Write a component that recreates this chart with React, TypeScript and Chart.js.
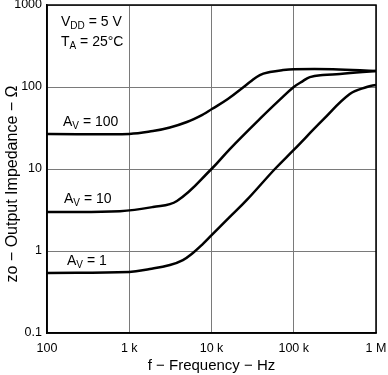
import React, { useEffect, useRef } from "react";
import { Chart, registerables } from "chart.js";

Chart.register(...registerables);

// Output impedance vs frequency (log-log)
const av100Freq = [100, 1000, 1940, 3120, 5020, 7870, 10100, 15800, 25500, 29300, 38700, 51300, 74000, 100000, 300000, 1000000];
const av100Z = [26.7, 26.8, 29.0, 32.1, 37.4, 46.2, 53.9, 71.4, 103, 115, 140, 152, 161, 165, 165, 157];

const av10Freq = [100, 770, 1940, 3800, 10000, 16700, 38700, 67800, 100000, 129000, 157000, 226000, 364000, 1000000];
const av10Z = [2.99, 3.06, 3.44, 4.07, 10, 17.5, 40.8, 70, 100, 118, 132, 140, 144, 157];

const av1Freq = [100, 1000, 1780, 3120, 4490, 5940, 7870, 10100, 16700, 26900, 59000, 100000, 226000, 480000, 773000, 1000000];
const av1Z = [0.54, 0.555, 0.603, 0.675, 0.776, 0.946, 1.22, 1.57, 2.6, 4.19, 10, 17.1, 39.6, 82, 100, 106];

const xTickValues = [100, 1000, 10000, 100000, 1000000];
const xTickLabels = ["100", "1 k", "10 k", "100 k", "1 M"];
const yTickValues = [0.1, 1, 10, 100, 1000];
const yTickLabels = ["0.1", "1", "10", "100", "1000"];

const FONT = "'Liberation Sans', Arial, sans-serif";

function toPts(xs: number[], ys: number[]) {
  return xs.map((x, i) => ({ x, y: ys[i] }));
}

function drawSub(ctx: CanvasRenderingContext2D, x: number, y: number, main: string, sub: string, rest: string) {
  ctx.font = `14px ${FONT}`;
  ctx.fillText(main, x, y);
  let w = ctx.measureText(main).width;
  ctx.font = `10px ${FONT}`;
  ctx.fillText(sub, x + w, y + 3);
  w += ctx.measureText(sub).width;
  ctx.font = `14px ${FONT}`;
  ctx.fillText(rest, x + w, y);
}

const labelsPlugin = {
  id: "labels",
  afterDatasetsDraw(chart: any) {
    const ctx = chart.ctx as CanvasRenderingContext2D;
    const a = chart.chartArea;
    ctx.save();
    ctx.fillStyle = "#000";
    ctx.textBaseline = "alphabetic";
    ctx.textAlign = "left";
    drawSub(ctx, a.left + 14, a.top + 21, "V", "DD", " = 5 V");
    drawSub(ctx, a.left + 14, a.top + 41, "T", "A", " = 25°C");
    drawSub(ctx, a.left + 16, a.top + 121, "A", "V", " = 100");
    drawSub(ctx, a.left + 17, a.top + 198, "A", "V", " = 10");
    drawSub(ctx, a.left + 20, a.top + 260, "A", "V", " = 1");
    // y-axis title
    ctx.save();
    ctx.translate(13, a.top + 179);
    ctx.rotate(-Math.PI / 2);
    ctx.textAlign = "center";
    ctx.textBaseline = "middle";
    ctx.font = `16px ${FONT}`;
    ctx.fillText("zo − Output Impedance − Ω", 0, 0);
    ctx.restore();
    ctx.restore();
  },
};

export default function App() {
  const ref = useRef<HTMLCanvasElement>(null);
  useEffect(() => {
    document.body.style.margin = "0";
    const lineDs = (data: any) => ({
      data,
      borderColor: "#000",
      borderWidth: 2.5,
      pointRadius: 0,
      fill: false,
      tension: 0.4,
    });
    const chart = new Chart(ref.current!, {
      type: "line",
      data: {
        datasets: [
          lineDs(toPts(av100Freq, av100Z)),
          lineDs(toPts(av10Freq, av10Z)),
          lineDs(toPts(av1Freq, av1Z)),
        ],
      },
      options: {
        animation: false,
        responsive: false,
        layout: { padding: { left: 0, right: 12, top: 5, bottom: 0 } },
        plugins: { legend: { display: false }, tooltip: { enabled: false } },
        scales: {
          x: {
            type: "logarithmic",
            min: 100,
            max: 1000000,
            afterBuildTicks: (s: any) => {
              s.ticks = xTickValues.map((v) => ({ value: v }));
            },
            afterFit: (s: any) => {
              s.height = 42;
              s.paddingLeft = 0;
              s.paddingRight = 0;
            },
            ticks: {
              autoSkip: false,
              maxRotation: 0,
              padding: 8,
              color: "#000",
              font: { family: FONT, size: 12.5 },
              callback: (v: any) => {
                const i = xTickValues.indexOf(Number(v));
                return i >= 0 ? xTickLabels[i] : "";
              },
            },
            grid: { color: "#7a7a7a", lineWidth: 1, drawTicks: false },
            border: { color: "#000", width: 1.5 },
            title: {
              display: true,
              text: "f − Frequency − Hz",
              color: "#000",
              font: { family: FONT, size: 15 },
              padding: { top: 0, bottom: 0 },
            },
          },
          y: {
            type: "logarithmic",
            min: 0.1,
            max: 1000,
            afterBuildTicks: (s: any) => {
              s.ticks = yTickValues.map((v) => ({ value: v }));
            },
            afterFit: (s: any) => {
              s.width = 47;
              s.paddingTop = 0;
              s.paddingBottom = 0;
            },
            ticks: {
              autoSkip: false,
              padding: 5,
              color: "#000",
              font: { family: FONT, size: 12.5 },
              callback: (v: any) => {
                const i = yTickValues.findIndex((t) => Math.abs(t - Number(v)) < 1e-9 * Math.max(1, t));
                return i >= 0 ? yTickLabels[i] : "";
              },
            },
            grid: { color: "#7a7a7a", lineWidth: 1, drawTicks: false },
            border: { color: "#000", width: 1.5 },
            title: { display: false },
          },
        },
      },
      plugins: [
        labelsPlugin,
        {
          id: "frame",
          afterDraw(chart: any) {
            const ctx = chart.ctx;
            const a = chart.chartArea;
            ctx.save();
            ctx.strokeStyle = "#000";
            ctx.lineWidth = 1.5;
            ctx.strokeRect(a.left, a.top, a.right - a.left, a.bottom - a.top);
            ctx.restore();
          },
        },
      ],
    });
    return () => chart.destroy();
  }, []);
  return (
    <div style={{ position: "absolute", left: 0, top: 0, width: 388, height: 375 }}>
      <canvas ref={ref} width={388} height={375} style={{ width: 388, height: 375 }} />
    </div>
  );
}
